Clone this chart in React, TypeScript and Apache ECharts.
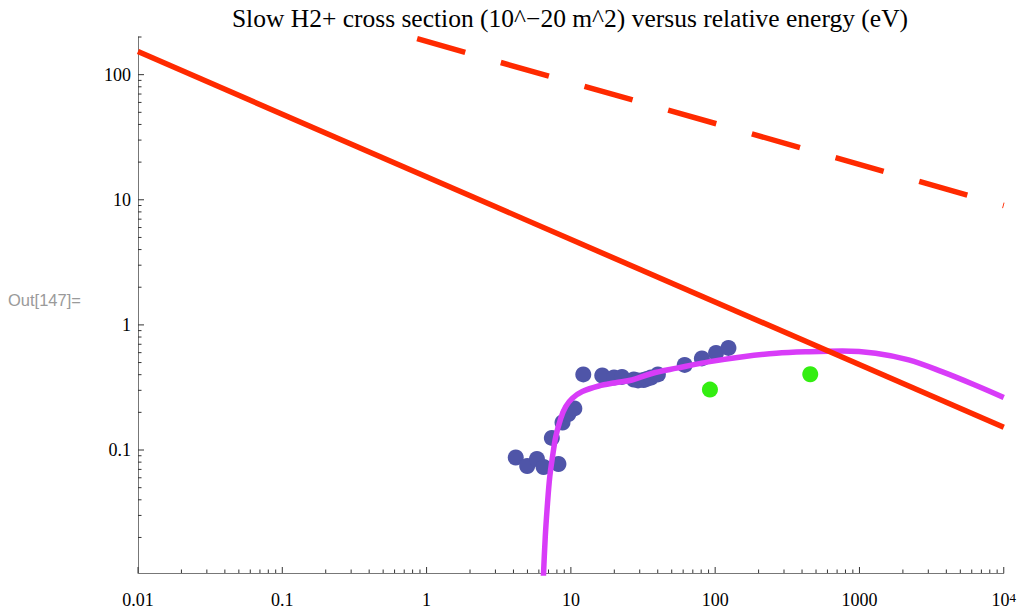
import React, { useEffect, useRef } from 'react';
import * as echarts from 'echarts';

const TITLE = 'Slow H2+ cross section (10^\u221220 m^2) versus relative energy (eV)';
const OUT_LABEL = 'Out[147]=';

const X_MIN = 0.01;
const X_MAX = 10000;
const Y_MIN = 0.0104;
const Y_MAX = 200;

const xMajorTicks = [0.01, 0.1, 1, 10, 100, 1000, 10000];
const xTickLabels = ['0.01', '0.1', '1', '10', '100', '1000', '10^4'];
const yMajorTicks = [0.1, 1, 10, 100];
const yTickLabels = ['0.1', '1', '10', '100'];

// measured cross sections (blue points)
const measuredE = [4.15, 4.98, 5.82, 6.47, 8.2, 7.38, 8.75, 9.61, 10.57, 12.19, 16.5, 19.9, 22.6, 27.3, 29.2, 31.9, 33.6, 35.9, 40.1, 61.5, 80.9, 101.4, 123.6];
const measuredSigma = [0.0871, 0.0745, 0.0847, 0.0731, 0.0773, 0.125, 0.166, 0.194, 0.215, 0.402, 0.394, 0.38, 0.384, 0.366, 0.36, 0.363, 0.37, 0.38, 0.402, 0.479, 0.54, 0.597, 0.655];

// other measurements (green points)
const otherE = [92.0, 456];
const otherSigma = [0.304, 0.403];

// fitted curve (magenta)
const fitE = [6.4, 6.645, 6.89, 7.14, 7.46, 7.86, 8.51, 9.21, 10.25, 12.0, 15.6, 20.4, 26.5, 36.4, 54.2, 91.9, 156, 265, 449, 762, 1294, 2193, 3724, 6310, 10000];
const fitSigma = [0.008, 0.0202, 0.0377, 0.0611, 0.0884, 0.128, 0.179, 0.222, 0.259, 0.293, 0.325, 0.345, 0.363, 0.409, 0.451, 0.509, 0.557, 0.594, 0.611, 0.619, 0.594, 0.525, 0.423, 0.331, 0.263];

// red solid line
const solidE = [0.01, 10000];
const solidSigma = [153, 0.152];

// red dashed line
const dashedE = [0.86, 10000];
const dashedSigma = [193.9, 9.0];

const SERIF = '"Liberation Serif", "Times New Roman", serif';

const zip = (a: number[], b: number[]) => a.map((v, i) => [v, b[i]]);

const isPow10 = (v: number) => {
  const e = Math.log10(v);
  return Math.abs(e - Math.round(e)) < 1e-6;
};

const labelFor = (v: number, ticks: number[], labels: string[]) => {
  if (!isPow10(v)) return '';
  const r = Math.round(Math.log10(v));
  const i = ticks.findIndex((t) => Math.round(Math.log10(t)) === r);
  if (i < 0) return '';
  const lbl = labels[i];
  if (lbl.includes('^')) {
    const [b, s] = lbl.split('^');
    return `{n|${b}}{s|${s}}`;
  }
  return lbl;
};

function buildTicks() {
  const out: number[][] = [];
  const MAJOR = 6;
  const MINOR = 3.5;
  for (let e = -2; e <= 4; e++) {
    for (let m = 1; m <= 9; m++) {
      const v = m * Math.pow(10, e);
      if (v < X_MIN * 0.999 || v > X_MAX * 1.001) continue;
      out.push([v, Y_MIN, m === 1 ? MAJOR : MINOR, 0]);
    }
  }
  for (let e = -2; e <= 2; e++) {
    for (let m = 1; m <= 9; m++) {
      const v = m * Math.pow(10, e);
      if (v < Y_MIN || v > Y_MAX * 1.001) continue;
      out.push([X_MIN, v, m === 1 ? MAJOR : MINOR, 1]);
    }
  }
  return out;
}

export default function App() {
  const ref = useRef<HTMLDivElement>(null);

  useEffect(() => {
    document.body.style.margin = '0';
    if (!ref.current) return;
    const chart = echarts.init(ref.current, null, { renderer: 'svg' });

    const option: any = {
      animation: false,
      backgroundColor: '#ffffff',
      grid: { left: 138, right: 10, top: 37, bottom: 37, containLabel: false },
      graphic: [
        {
          type: 'text',
          x: 570,
          y: 18,
          style: {
            text: TITLE,
            textAlign: 'center',
            textVerticalAlign: 'middle',
            font: `25.5px ${SERIF}`,
            fill: '#000000',
          },
        },
        {
          type: 'text',
          x: 8,
          y: 300,
          style: {
            text: OUT_LABEL,
            textAlign: 'left',
            textVerticalAlign: 'middle',
            font: '16.5px "Liberation Sans", Arial, sans-serif',
            fill: '#9a9a9a',
          },
        },
      ],
      xAxis: {
        type: 'log',
        logBase: 10,
        min: X_MIN,
        max: X_MAX,
        splitNumber: 6,
        axisLine: { show: true, onZero: false, lineStyle: { color: '#777777', width: 1 } },
        axisTick: { show: false },
        splitLine: { show: false },
        axisLabel: {
          margin: 18,
          color: '#000000',
          fontFamily: SERIF,
          fontSize: 18,
          showMinLabel: true,
          showMaxLabel: true,
          hideOverlap: false,
          formatter: (v: number) => labelFor(v, xMajorTicks, xTickLabels),
          rich: {
            n: { fontFamily: SERIF, fontSize: 18, color: '#000000' },
            s: { fontFamily: SERIF, fontSize: 13, color: '#000000', verticalAlign: 'top', lineHeight: 12 },
          },
        },
      },
      yAxis: {
        type: 'log',
        logBase: 10,
        min: Y_MIN,
        max: Y_MAX,
        splitNumber: 5,
        axisLine: { show: true, onZero: false, lineStyle: { color: '#777777', width: 1 } },
        axisTick: { show: false },
        splitLine: { show: false },
        axisLabel: {
          margin: 7,
          color: '#000000',
          fontFamily: SERIF,
          fontSize: 18,
          hideOverlap: false,
          formatter: (v: number) => labelFor(v, yMajorTicks, yTickLabels),
        },
      },
      series: [
        {
          name: 'measured',
          type: 'scatter',
          symbol: 'circle',
          symbolSize: 16,
          itemStyle: { color: '#4f55a8', opacity: 1 },
          data: zip(measuredE, measuredSigma),
          z: 2,
        },
        {
          name: 'fit',
          type: 'line',
          smooth: 0.35,
          showSymbol: false,
          symbol: 'none',
          clip: true,
          lineStyle: { color: '#d83cf8', width: 5.5 },
          data: zip(fitE, fitSigma),
          z: 3,
        },
        {
          name: 'other',
          type: 'scatter',
          symbol: 'circle',
          symbolSize: 16,
          itemStyle: { color: '#33ee11', opacity: 1 },
          data: zip(otherE, otherSigma),
          z: 4,
        },
        {
          name: 'solid',
          type: 'line',
          showSymbol: false,
          symbol: 'none',
          clip: true,
          lineStyle: { color: '#ff2a00', width: 5.5 },
          data: zip(solidE, solidSigma),
          z: 5,
        },
        {
          name: 'dashed',
          type: 'line',
          showSymbol: false,
          symbol: 'none',
          clip: true,
          lineStyle: { color: '#ff2a00', width: 5.5, type: [50, 37], cap: 'butt' },
          data: zip(dashedE, dashedSigma),
          z: 5,
        },
        {
          name: 'ticks',
          type: 'custom',
          coordinateSystem: 'cartesian2d',
          silent: true,
          clip: false,
          encode: { x: 0, y: 1 },
          data: buildTicks(),
          renderItem: (params: any, api: any) => {
            const p = api.coord([api.value(0), api.value(1)]);
            const len = api.value(2);
            const isX = api.value(3) === 0;
            return {
              type: 'line',
              shape: isX
                ? { x1: p[0], y1: p[1], x2: p[0], y2: p[1] - len }
                : { x1: p[0], y1: p[1], x2: p[0] + len, y2: p[1] },
              style: { stroke: '#333333', lineWidth: 1 },
            };
          },
          z: 6,
        },
      ],
    };

    chart.setOption(option);
    return () => {
      chart.dispose();
    };
  }, []);

  return <div ref={ref} style={{ width: 1019, height: 610 }} />;
}
